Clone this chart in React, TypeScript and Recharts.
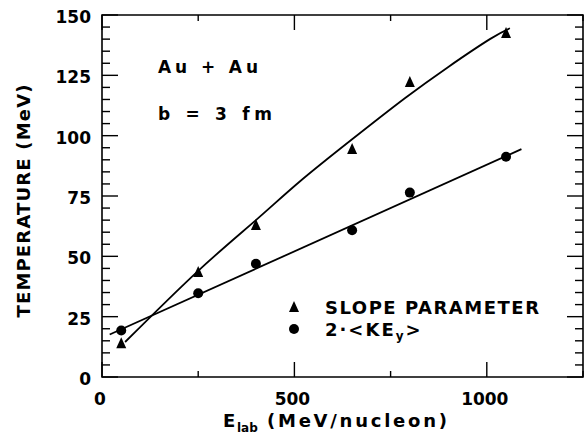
import React from "react";
import {
  ComposedChart,
  Line,
  Scatter,
  XAxis,
  YAxis,
  ReferenceArea,
  Legend,
} from "recharts";

// measured points (E_lab in MeV/nucleon, temperature in MeV)
const energies = [50, 250, 400, 650, 800, 1050];
const slopeParam = [14, 43.5, 63, 94.5, 122.2, 142.5];
const keY2 = [19.3, 34.7, 46.9, 60.8, 76.4, 91.3];

// hand-drawn fit curves
const slopeFitE = [60, 250, 400, 514, 650, 787, 900, 1008, 1060];
const slopeFitT = [14.5, 44, 65, 81, 98.5, 115.5, 128.5, 140, 144.5];
const keFitE = [20, 1090];
const keFitT = [17.6, 94.4];

const xTicks = [0, 250, 500, 750, 1000, 1250];
const yTicks = [
  0, 5, 10, 15, 20, 25, 30, 35, 40, 45, 50, 55, 60, 65, 70, 75, 80, 85, 90,
  95, 100, 105, 110, 115, 120, 125, 130, 135, 140, 145, 150,
];

const W = 584;
const H = 440;
const PLOT_LEFT = 102;
const PLOT_RIGHT = 583;
const PLOT_TOP = 15;
const PLOT_BOTTOM = 377;
const FONT = "'DejaVu Sans', sans-serif";

const toPoints = (xs: number[], ys: number[]) =>
  xs.map((x, i) => ({ x, y: ys[i] }));

const slopeData = toPoints(energies, slopeParam);
const keData = toPoints(energies, keY2);
const slopeFit = toPoints(slopeFitE, slopeFitT);
const keFit = toPoints(keFitE, keFitT);

const txt = (size: number) => ({
  fontFamily: FONT,
  fontWeight: "bold" as const,
  fontSize: size,
});

const Triangle = ({ cx, cy }: any) => (
  <polygon
    points={`${cx},${cy - 6} ${cx - 5},${cy + 5} ${cx + 5},${cy + 5}`}
    fill="#000"
  />
);

const Dot = ({ cx, cy }: any) => <circle cx={cx} cy={cy} r={5} fill="#000" />;

const YTick = ({ x, y, payload }: any) => {
  const major = payload.value % 25 === 0;
  const len = major ? 16 : 8;
  return (
    <g>
      <line x1={x} x2={x + len} y1={y} y2={y} stroke="#000" strokeWidth={1.4} />
      <line
        x1={PLOT_RIGHT}
        x2={PLOT_RIGHT - len}
        y1={y}
        y2={y}
        stroke="#000"
        strokeWidth={1.4}
      />
      {major && (
        <text x={x - 11} y={y + 8} textAnchor="end" style={txt(17)} fill="#000">
          {payload.value}
        </text>
      )}
    </g>
  );
};

const XTick = ({ x, y, payload }: any) => {
  const major = payload.value % 500 === 0;
  const len = major ? 15 : 6;
  return (
    <g>
      <line x1={x} x2={x} y1={y} y2={y - len} stroke="#000" strokeWidth={1.4} />
      <line
        x1={x}
        x2={x}
        y1={PLOT_TOP}
        y2={PLOT_TOP + len}
        stroke="#000"
        strokeWidth={1.4}
      />
      {major && (
        <text x={x - 2} y={y + 28} textAnchor="middle" style={txt(17)} fill="#000">
          {payload.value}
        </text>
      )}
    </g>
  );
};

const renderLegend = () => (
  <svg width={270} height={50} style={{ display: "block" }}>
    <polygon points="9,5 4,16 14,16" fill="#000" />
    <text x={40} y={18} style={txt(18)} textLength={214} lengthAdjust="spacing">
      SLOPE PARAMETER
    </text>
    <circle cx={9} cy={33} r={5} fill="#000" />
    <text x={40} y={40} style={{ ...txt(18), letterSpacing: 2 }}>
      <tspan>2·&lt;KE</tspan>
      <tspan fontSize={12} dy={4}>
        y
      </tspan>
      <tspan dy={-4}>&gt;</tspan>
    </text>
  </svg>
);

export default function App() {
  return (
    <div style={{ width: W, height: H }}>
      <style>{"body{margin:0}"}</style>
      <ComposedChart
        width={W}
        height={H}
        margin={{ top: PLOT_TOP, right: W - PLOT_RIGHT, left: 0, bottom: 0 }}
      >
        <XAxis
          type="number"
          dataKey="x"
          domain={[0, 1250]}
          ticks={xTicks}
          interval={0}
          height={H - PLOT_BOTTOM}
          tickSize={0}
          tickMargin={0}
          tickLine={false}
          axisLine={false}
          tick={<XTick />}
        />
        <YAxis
          type="number"
          dataKey="y"
          domain={[0, 150]}
          ticks={yTicks}
          interval={0}
          width={PLOT_LEFT}
          tickSize={0}
          tickMargin={0}
          tickLine={false}
          axisLine={false}
          tick={<YTick />}
        />
        <ReferenceArea
          x1={0}
          x2={1250}
          y1={0}
          y2={150}
          fill="none"
          stroke="#000"
          strokeWidth={1.6}
        />
        <Line
          data={slopeFit}
          dataKey="y"
          type="natural"
          stroke="#000"
          strokeWidth={1.8}
          dot={false}
          activeDot={false}
          isAnimationActive={false}
          legendType="none"
        />
        <Line
          data={keFit}
          dataKey="y"
          type="linear"
          stroke="#000"
          strokeWidth={1.8}
          dot={false}
          activeDot={false}
          isAnimationActive={false}
          legendType="none"
        />
        <Scatter
          name="SLOPE PARAMETER"
          data={slopeData}
          dataKey="y"
          shape={<Triangle />}
          isAnimationActive={false}
        />
        <Scatter
          name="2·<KEy>"
          data={keData}
          dataKey="y"
          shape={<Dot />}
          isAnimationActive={false}
        />
        <Legend
          layout="horizontal"
          verticalAlign="middle"
          align="center"
          content={renderLegend}
          wrapperStyle={{ left: 285, top: 296, width: 270, height: 50 }}
        />
        <text x={158} y={73} style={txt(17)} textLength={100} lengthAdjust="spacing">
          Au + Au
        </text>
        <text x={158} y={120} style={txt(17)} textLength={114} lengthAdjust="spacing">
          b = 3 fm
        </text>
        <text
          x={23}
          y={201}
          transform="rotate(-90, 23, 201)"
          textAnchor="middle"
          dominantBaseline="central"
          style={txt(18)}
          textLength={233}
          lengthAdjust="spacing"
        >
          TEMPERATURE (MeV)
        </text>
        <text x={223} y={427} style={txt(18)}>
          E
        </text>
        <text x={237} y={432} style={txt(12)}>
          lab
        </text>
        <text
          x={267}
          y={427}
          style={txt(18)}
          textLength={180}
          lengthAdjust="spacing"
        >
          (MeV/nucleon)
        </text>
      </ComposedChart>
    </div>
  );
}
